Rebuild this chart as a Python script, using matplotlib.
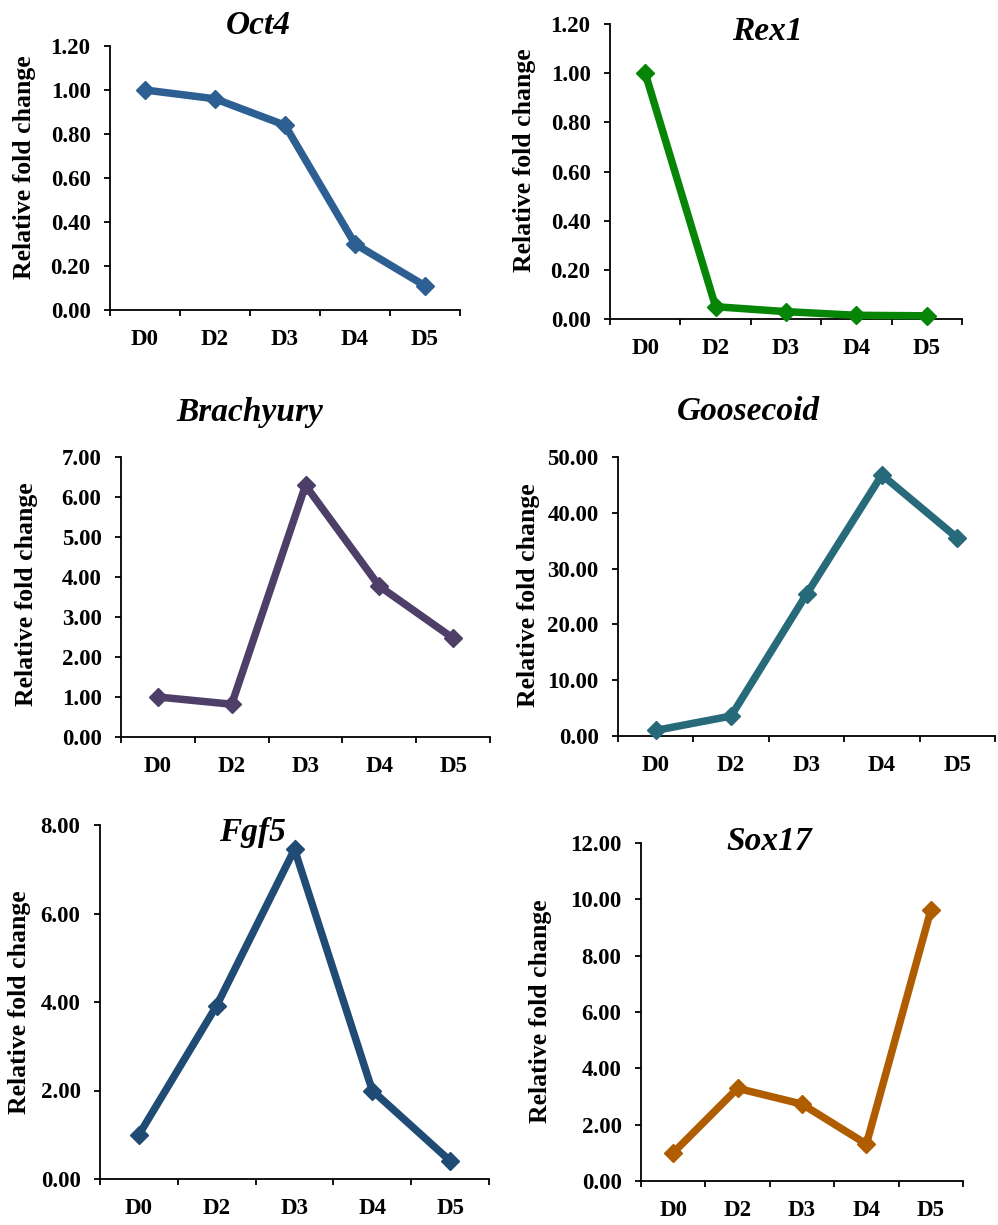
import numpy as np
import matplotlib
matplotlib.use("Agg")
import matplotlib.pyplot as plt

plt.rcParams['font.family'] = ['Liberation Serif', 'DejaVu Serif']
plt.rcParams['font.weight'] = 'bold'

# data
days = ['D0', 'D2', 'D3', 'D4', 'D5']
oct4 = [1.00, 0.96, 0.84, 0.30, 0.11]
rex1 = [1.00, 0.05, 0.03, 0.015, 0.013]
brachyury = [1.00, 0.82, 6.29, 3.77, 2.47]
goosecoid = [1.00, 3.58, 25.4, 46.8, 35.5]
fgf5 = [1.00, 3.92, 7.45, 2.00, 0.41]
sox17 = [1.00, 3.29, 2.73, 1.31, 9.61]

genes = ['Oct4', 'Rex1', 'Brachyury', 'Goosecoid', 'Fgf5', 'Sox17']
series = [oct4, rex1, brachyury, goosecoid, fgf5, sox17]
colors = ['#2E5F93', '#078507', '#4E3F68', '#276B7A', '#1F4B75', '#B05C00']
ymax = [1.2, 1.2, 7.0, 50.0, 8.0, 12.0]
ystep = [0.2, 0.2, 1.0, 10.0, 2.0, 2.0]

W, H = 998, 1225
# axes boxes in pixels: left, right, top, bottom
boxes = [(110, 460, 46, 310), (610, 962, 24, 319),
         (121, 490, 457, 737), (618, 995, 457, 736),
         (100, 489, 825, 1179), (641, 963, 843, 1181)]
titles_xy = [(258, 25), (767, 32), (250, 412), (748, 412), (252, 832), (769, 842)]
ylabel_xy = [(25, 167), (525, 160), (27, 594), (528, 595), (20, 1002), (540, 1011)]

fig = plt.figure(figsize=(W / 100, H / 100), dpi=100)

for i in range(6):
    l, r, t, b = boxes[i]
    ax = fig.add_axes([l / W, 1 - b / H, (r - l) / W, (b - t) / H])
    x = np.arange(len(days))
    ax.plot(x, series[i], color=colors[i], lw=5.4, marker='D', ms=9.5,
            mec=colors[i], mew=1, solid_joinstyle='miter', clip_on=False, zorder=3)
    ax.set_xlim(-0.5, len(days) - 0.5)
    ax.set_ylim(0, ymax[i])
    yt = np.arange(0, ymax[i] + ystep[i] / 2, ystep[i])
    ax.set_yticks(yt)
    ax.set_yticklabels(['%.2f' % v for v in yt])
    ax.set_xticks(np.arange(-0.5, len(days), 1.0))
    ax.set_xticklabels([])
    ax.set_xticks(x, minor=True)
    ax.set_xticklabels(days, minor=True)
    ax.tick_params(axis='x', which='major', direction='out', length=4, width=1.3)
    ax.tick_params(axis='x', which='minor', length=0, pad=14, labelsize=16.5)
    ax.tick_params(axis='y', direction='out', length=4, width=1.3, pad=10, labelsize=16.5)
    for s in ['top', 'right']:
        ax.spines[s].set_visible(False)
    for s in ['left', 'bottom']:
        ax.spines[s].set_linewidth(1.3)
    tx, ty = titles_xy[i]
    fig.text(tx / W, 1 - ty / H, genes[i], ha='center', va='center',
             fontsize=24, fontweight='bold', fontstyle='italic')
    lx, ly = ylabel_xy[i]
    fig.text(lx / W, 1 - ly / H, 'Relative fold change', ha='center', va='center',
             rotation=90, fontsize=18.5, fontweight='bold')

fig.savefig('out.png', dpi=100)
